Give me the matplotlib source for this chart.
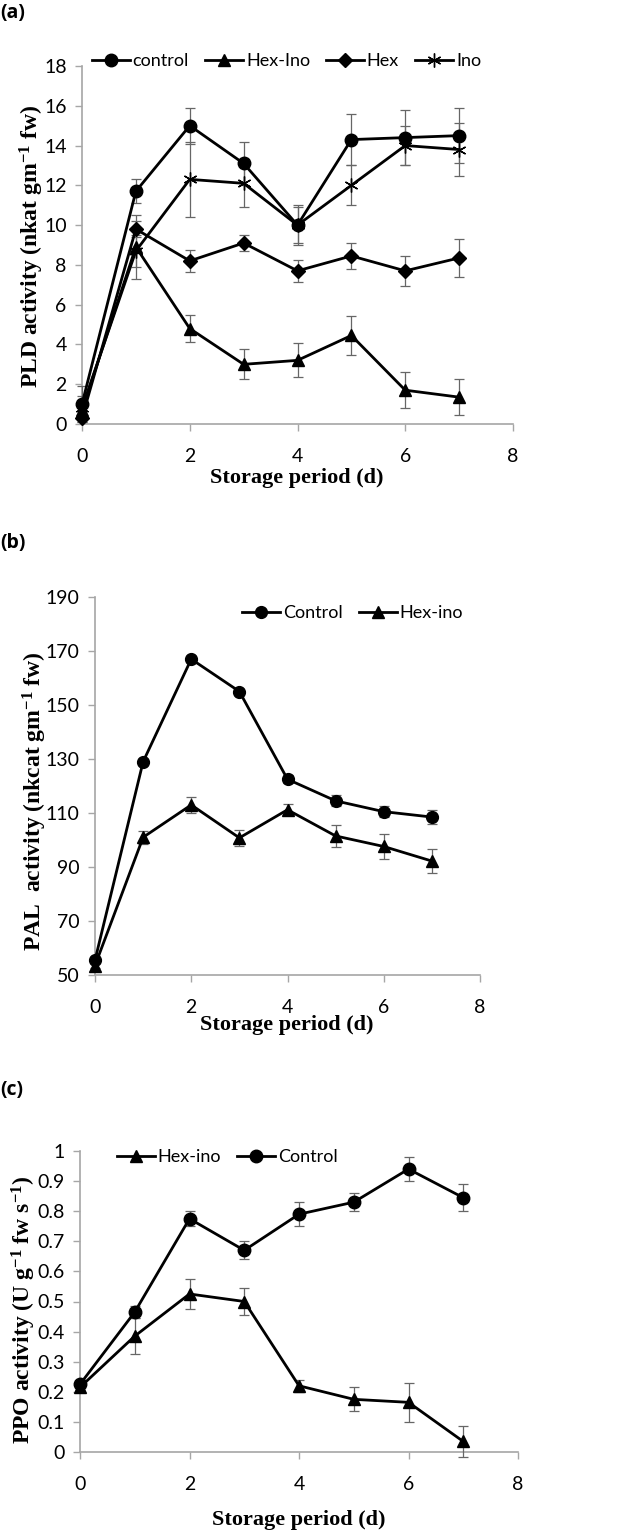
"""
Atividade enzimatica (PLD, PAL, PPO) durante o armazenamento
"""

import numpy as np
import matplotlib
matplotlib.use('Agg')
import matplotlib.pyplot as plt

# ---- dados ----
days = [0, 1, 2, 3, 4, 5, 6, 7]

# (a) PLD
pld_control = [1.0, 11.7, 15.0, 13.1, 10.0, 14.3, 14.4, 14.5]
pld_control_err = [0.9, 0.6, 0.9, 1.1, 1.0, 1.3, 1.4, 1.4]
pld_hexino = [0.7, 8.9, 4.8, 3.0, 3.2, 4.45, 1.7, 1.35]
pld_hexino_err = [0.5, 1.6, 0.7, 0.75, 0.85, 0.97, 0.9, 0.9]
pld_hex = [0.3, 9.8, 8.2, 9.1, 7.7, 8.45, 7.7, 8.35]
pld_hex_err = [0.2, 0.4, 0.55, 0.4, 0.55, 0.65, 0.75, 0.95]
pld_ino = [0.8, 8.7, 12.3, 12.1, 10.0, 12.0, 14.0, 13.8]
pld_ino_err = [0.6, 0.8, 1.9, 1.2, 0.9, 1.0, 1.0, 1.35]

# (b) PAL
pal_control = [55.5, 129.0, 167.0, 155.0, 122.5, 114.5, 110.5, 108.5]
pal_control_err = [1.0, 1.0, 1.0, 1.0, 1.5, 2.0, 2.0, 2.5]
pal_hexino = [53.5, 101.0, 113.0, 100.8, 111.2, 101.5, 97.6, 92.2]
pal_hexino_err = [1.0, 2.5, 3.0, 3.0, 2.0, 4.2, 4.5, 4.5]

# (c) PPO
ppo_hexino = [0.215, 0.385, 0.525, 0.50, 0.22, 0.175, 0.165, 0.035]
ppo_hexino_err = [0.01, 0.06, 0.05, 0.045, 0.02, 0.04, 0.065, 0.05]
ppo_control = [0.225, 0.465, 0.775, 0.67, 0.79, 0.83, 0.94, 0.845]
ppo_control_err = [0.01, 0.02, 0.025, 0.03, 0.04, 0.03, 0.04, 0.045]

ppo_ticklabels = ['0', '0.1', '0.2', '0.3', '0.4', '0.5', '0.6', '0.7',
                  '0.8', '0.9', '1']

TICK_FONT = 'Lato'
LABEL_FONT = 'Liberation Serif'
SPINE_COLOR = '#a6a6a6'
W, H = 636, 1533

plt.rcParams['mathtext.default'] = 'regular'


def fx(px):
    return px / W


def fy(py):
    return 1 - py / H


def style_axis(ax):
    for side in ['top', 'right']:
        ax.spines[side].set_visible(False)
    for side in ['left', 'bottom']:
        ax.spines[side].set_color(SPINE_COLOR)
        ax.spines[side].set_linewidth(1.2)
    ax.tick_params(colors=SPINE_COLOR, labelcolor='black', labelsize=14,
                   length=5, width=1.0, direction='out')
    ax.tick_params(axis='x', pad=12)
    ax.tick_params(axis='y', pad=6)
    for lab in ax.get_xticklabels() + ax.get_yticklabels():
        lab.set_family(TICK_FONT)


def plot_series(ax, y, err, marker, label, ms=9):
    ax.errorbar(days, y, yerr=err, color='black', marker=marker, markersize=ms,
                linewidth=2.0, ecolor='#666666', elinewidth=0.9, capsize=3.5,
                capthick=0.9, label=label, clip_on=False, zorder=3)


def add_legend(ax, ncol, left_px, y_px):
    handles, labels = ax.get_legend_handles_labels()
    fig.legend([h[0] for h in handles], labels, ncol=ncol, frameon=False,
               loc='center left', bbox_to_anchor=(fx(left_px), fy(y_px)),
               prop={'family': TICK_FONT, 'size': 13}, handlelength=2.1,
               handletextpad=0.15, columnspacing=0.9, borderpad=0,
               borderaxespad=0)


def add_labels(xlabel_pos, ylabel, ylabel_pos):
    fig.text(fx(xlabel_pos[0]), fy(xlabel_pos[1]), 'Storage period (d)',
             family=LABEL_FONT, fontweight='bold', fontsize=16,
             ha='center', va='center')
    fig.text(fx(ylabel_pos[0]), fy(ylabel_pos[1]), ylabel, family=LABEL_FONT,
             fontweight='bold', fontsize=17, rotation=90, ha='center',
             va='center')


fig = plt.figure(figsize=(6.36, 15.33), dpi=100)

# ---------- (a) ----------
ax1 = fig.add_axes([fx(82), fy(424), fx(513 - 82), (424 - 66) / H])
plot_series(ax1, pld_control, pld_control_err, 'o', 'control')
plot_series(ax1, pld_hexino, pld_hexino_err, '^', 'Hex-Ino')
plot_series(ax1, pld_hex, pld_hex_err, 'D', 'Hex', ms=7)
plot_series(ax1, pld_ino, pld_ino_err, (6, 2, 0), 'Ino', ms=10)
ax1.set_xlim(0, 8)
ax1.set_ylim(0, 18)
ax1.set_xticks(range(0, 9, 2))
ax1.set_yticks(range(0, 19, 2))
style_axis(ax1)
add_legend(ax1, 4, 92, 61)
add_labels((297, 478), 'PLD activity (nkat gm$^{-1}$ fw)', (32, 246))
fig.text(0.0, fy(13), '(a)', family='Open Sans', fontweight='bold',
         fontsize=14, va='center', ha='left')

# ---------- (b) ----------
ax2 = fig.add_axes([fx(95), fy(975), fx(480 - 95), (975 - 597) / H])
plot_series(ax2, pal_control, pal_control_err, 'o', 'Control', ms=8.5)
plot_series(ax2, pal_hexino, pal_hexino_err, '^', 'Hex-ino', ms=8.5)
ax2.set_xlim(0, 8)
ax2.set_ylim(50, 190)
ax2.set_xticks(range(0, 9, 2))
ax2.set_yticks(range(50, 191, 20))
style_axis(ax2)
add_legend(ax2, 2, 242, 613)
add_labels((287, 1025), 'PAL  activity (nkcat gm$^{-1}$ fw)', (35, 801))
fig.text(0.0, fy(543), '(b)', family='Open Sans', fontweight='bold',
         fontsize=14, va='center', ha='left')

# ---------- (c) ----------
ax3 = fig.add_axes([fx(80), fy(1452), fx(518 - 80), (1452 - 1151) / H])
plot_series(ax3, ppo_hexino, ppo_hexino_err, '^', 'Hex-ino')
plot_series(ax3, ppo_control, ppo_control_err, 'o', 'Control')
ax3.set_xlim(0, 8)
ax3.set_ylim(0, 1)
ax3.set_xticks(range(0, 9, 2))
ax3.set_yticks(np.arange(0, 1.01, 0.1))
ax3.set_yticklabels(ppo_ticklabels)
style_axis(ax3)
add_legend(ax3, 2, 117, 1157)
add_labels((299, 1520), 'PPO activity (U g$^{-1}$ fw s$^{-1}$)', (24, 1310))
fig.text(0.0, fy(1090), '(c)', family='Open Sans', fontweight='bold',
         fontsize=14, va='center', ha='left')

plt.savefig('out.png', dpi=100)
plt.close()
